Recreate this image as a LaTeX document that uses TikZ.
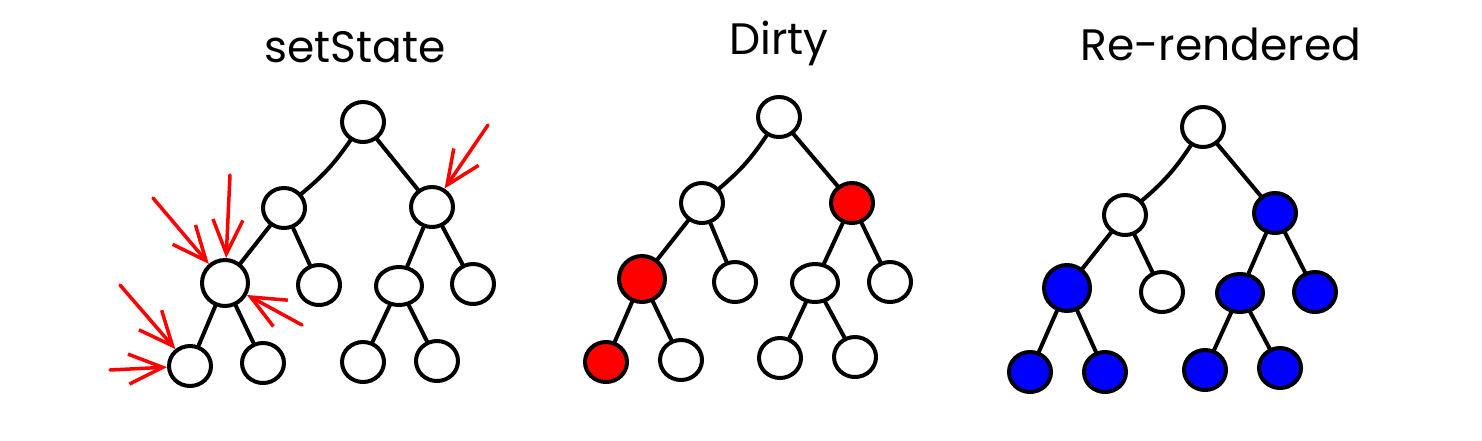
\documentclass[tikz,border=0pt]{standalone}
\usepackage{fontspec}
\setmainfont{Poppins}
\usetikzlibrary{shapes.geometric,arrows.meta}

\begin{document}
\begin{tikzpicture}[x=1pt, y=-1pt, line cap=round, line join=round]
        \tikzstyle{nodeStyle} = [ellipse, draw=black, line width=4pt, fill=white,
                                 minimum width=42pt, minimum height=40pt, inner sep=0pt]
        \tikzstyle{bigNode} = [minimum width=46pt, minimum height=46pt]
        \tikzstyle{wideNode} = [minimum width=46pt, minimum height=38pt]
        \tikzstyle{redNode} = [nodeStyle, fill=red]
        \tikzstyle{blueNode} = [nodeStyle, fill=blue]
        \tikzstyle{blackEdge} = [draw=black, line width=4pt]
        \tikzstyle{redArrow} = [draw=red, line width=3.5pt,
                                -{Straight Barb[length=34pt, width=30pt]}]
        \tikzstyle{titleStyle} = [anchor=base, font=\fontsize{44}{52}\selectfont]
        \useasboundingbox (0,0) rectangle (1482,440);
        % titles
        \node[titleStyle] (tS) at (355,62) {setState};
        \node[titleStyle] (tD) at (779,54) {Dirty};
        \node[titleStyle] (tR) at (1221,60) {Re-rendered};
        % setState tree
        \node[nodeStyle] (s1) at (363,122) {};
        \node[nodeStyle] (s2) at (284,208) {};
        \node[nodeStyle] (s3) at (432,207) {};
        \node[nodeStyle, bigNode] (s4) at (225,283) {};
        \node[nodeStyle] (s5) at (319,285) {};
        \node[nodeStyle, wideNode] (s6) at (399,286) {};
        \node[nodeStyle] (s7) at (473,284) {};
        \node[nodeStyle] (s8) at (190,366) {};
        \node[nodeStyle] (s9) at (263,363) {};
        \node[nodeStyle] (s10) at (363,362) {};
        \node[nodeStyle] (s11) at (437,361) {};
        % Dirty tree
        \node[nodeStyle] (d1) at (779,117) {};
        \node[nodeStyle] (d2) at (702,203) {};
        \node[redNode] (d3) at (852,203) {};
        \node[redNode, bigNode] (d4) at (642,279) {};
        \node[nodeStyle] (d5) at (735,282) {};
        \node[nodeStyle, wideNode] (d6) at (815,283) {};
        \node[nodeStyle] (d7) at (890,282) {};
        \node[redNode] (d8) at (606,362) {};
        \node[nodeStyle] (d9) at (681,360) {};
        \node[nodeStyle] (d10) at (780,358) {};
        \node[nodeStyle] (d11) at (855,357) {};
        % Re-rendered tree
        \node[nodeStyle] (r1) at (1203,127) {};
        \node[nodeStyle] (r2) at (1125,215) {};
        \node[blueNode] (r3) at (1275,213) {};
        \node[blueNode, bigNode] (r4) at (1067,288) {};
        \node[nodeStyle] (r5) at (1162,292) {};
        \node[blueNode, wideNode] (r6) at (1240,293) {};
        \node[blueNode] (r7) at (1315,292) {};
        \node[blueNode] (r8) at (1030,372) {};
        \node[blueNode] (r9) at (1105,372) {};
        \node[blueNode] (r10) at (1205,370) {};
        \node[blueNode] (r11) at (1280,368) {};
        \foreach \t in {s,d,r} {
            \path[blackEdge] (\t1) edge[bend left=8] (\t2);
            \foreach \from/\to in {1/3, 2/4, 2/5, 3/6, 3/7,
                                   4/8, 4/9, 6/10, 6/11}
                \path[blackEdge] (\t\from) edge (\t\to);
        }
        % setState arrows
        \coordinate (p1) at (488,125);
        \coordinate (p2) at (153,198);
        \coordinate (p3) at (230,175);
        \coordinate (p4) at (302,325);
        \coordinate (p5) at (120,285);
        \coordinate (p6) at (110,370);
        \foreach \from/\to in {p1/s3, p2/s4, p3/s4, p4/s4, p5/s8, p6/s8}
            \draw[redArrow] (\from) -- (\to);
\end{tikzpicture}
\end{document}
